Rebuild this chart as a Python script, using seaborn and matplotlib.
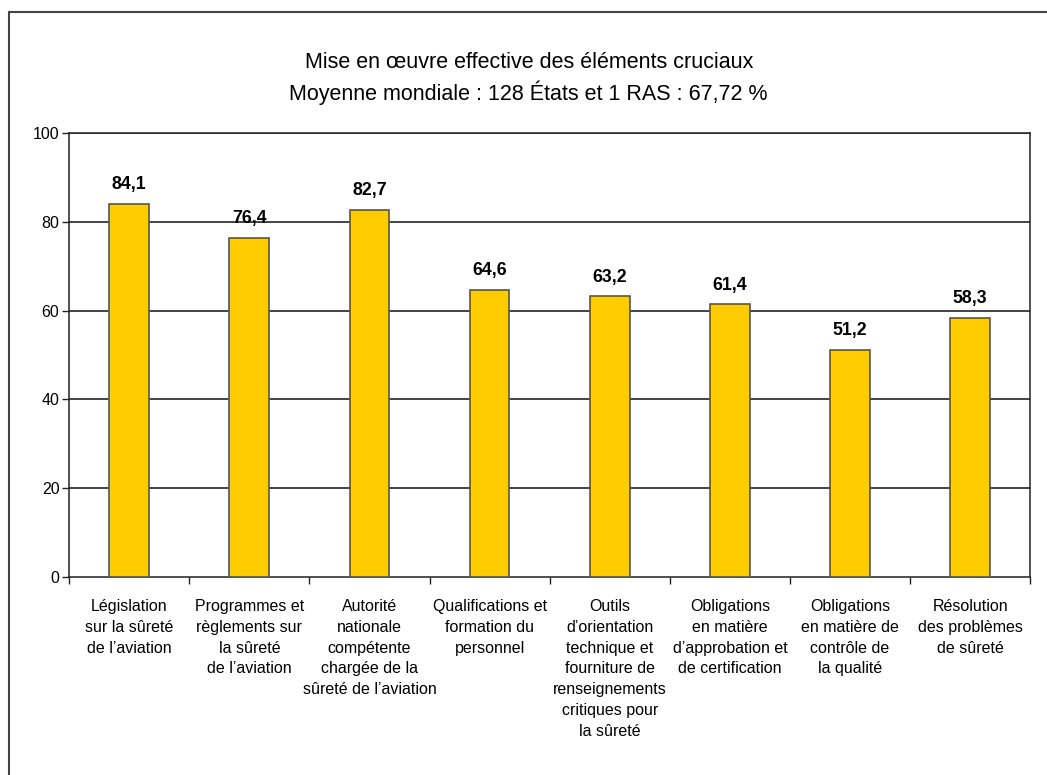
import matplotlib
matplotlib.use("Agg")
import matplotlib.pyplot as plt
from matplotlib.lines import Line2D
import seaborn as sns
import pandas as pd
import numpy as np

categories = [
    "Législation\nsur la sûreté\nde l’aviation",
    "Programmes et\nrèglements sur\nla sûreté\nde l’aviation",
    "Autorité\nnationale\ncompétente\nchargée de la\nsûreté de l’aviation",
    "Qualifications et\nformation du\npersonnel",
    "Outils\nd’orientation\ntechnique et\nfourniture de\nrenseignements\ncritiques pour\nla sûreté",
    "Obligations\nen matière\nd’approbation et\nde certification",
    "Obligations\nen matière de\ncontrôle de\nla qualité",
    "Résolution\ndes problèmes\nde sûreté",
]
values = [84.1, 76.4, 82.7, 64.6, 63.2, 61.4, 51.2, 58.3]
value_labels = ["84,1", "76,4", "82,7", "64,6", "63,2", "61,4", "51,2", "58,3"]
title_lines = [
    "Mise en œuvre effective des éléments cruciaux",
    "Moyenne mondiale : 128 États et 1 RAS : 67,72 %",
]
y_ticks = [0, 20, 40, 60, 80, 100]

sns.set_style("white")
plt.rcParams["font.family"] = ["Liberation Sans", "DejaVu Sans"]
plt.rcParams["text.color"] = "black"
plt.rcParams["xtick.color"] = "black"
plt.rcParams["ytick.color"] = "black"

df = pd.DataFrame({"cat": categories, "val": values})

fig = plt.figure(figsize=(10.47, 7.75), dpi=100)
ax = fig.add_axes([0.066, 0.2555, 0.918, 0.573])

sns.barplot(data=df, x="cat", y="val", ax=ax, color="#FFCC00",
            saturation=1, width=0.33, edgecolor="#555555", linewidth=1.2,
            zorder=3)

ax.set_ylim(0, 100)
ax.set_xlim(-0.5, len(categories) - 0.5)
ax.set_yticks(y_ticks)
ax.set_yticklabels([str(t) for t in y_ticks], fontsize=11.5)
ax.set_xlabel("")
ax.set_ylabel("")

# horizontal grid
for t in y_ticks[1:]:
    ax.axhline(t, color="#111111", lw=1.1, zorder=1)

# category labels centred under bars, tick marks on boundaries
ax.set_xticks(range(len(categories)))
ax.set_xticklabels(categories, fontsize=11.5, linespacing=1.48, va="top")
ax.tick_params(axis="x", which="major", length=0, pad=16)
ax.set_xticks(np.arange(-0.5, len(categories), 1.0), minor=True)
ax.tick_params(axis="x", which="minor", length=5, width=1, color="#222222",
               direction="out", bottom=True)
ax.tick_params(axis="y", length=5, width=1, color="#222222", direction="out",
               left=True, pad=2)

for side in ["left", "right", "top", "bottom"]:
    ax.spines[side].set_visible(True)
    ax.spines[side].set_color("#222222")
    ax.spines[side].set_linewidth(1.1)

for i, (v, lab) in enumerate(zip(values, value_labels)):
    ax.text(i, v + 2.4, lab, ha="center", va="bottom", fontsize=12.8,
            fontweight="bold", zorder=4)

fig.text(0.505, 0.920, title_lines[0], ha="center", va="center", fontsize=15.5)
fig.text(0.505, 0.880, title_lines[1], ha="center", va="center", fontsize=15.5)

# outer frame (left and top edges)
fig.add_artist(Line2D([0.0085, 0.0085], [0.0, 0.985], transform=fig.transFigure,
                      color="#444444", lw=1.5))
fig.add_artist(Line2D([0.0085, 1.0], [0.985, 0.985], transform=fig.transFigure,
                      color="#444444", lw=1.5))

fig.savefig("out.png", dpi=100)
